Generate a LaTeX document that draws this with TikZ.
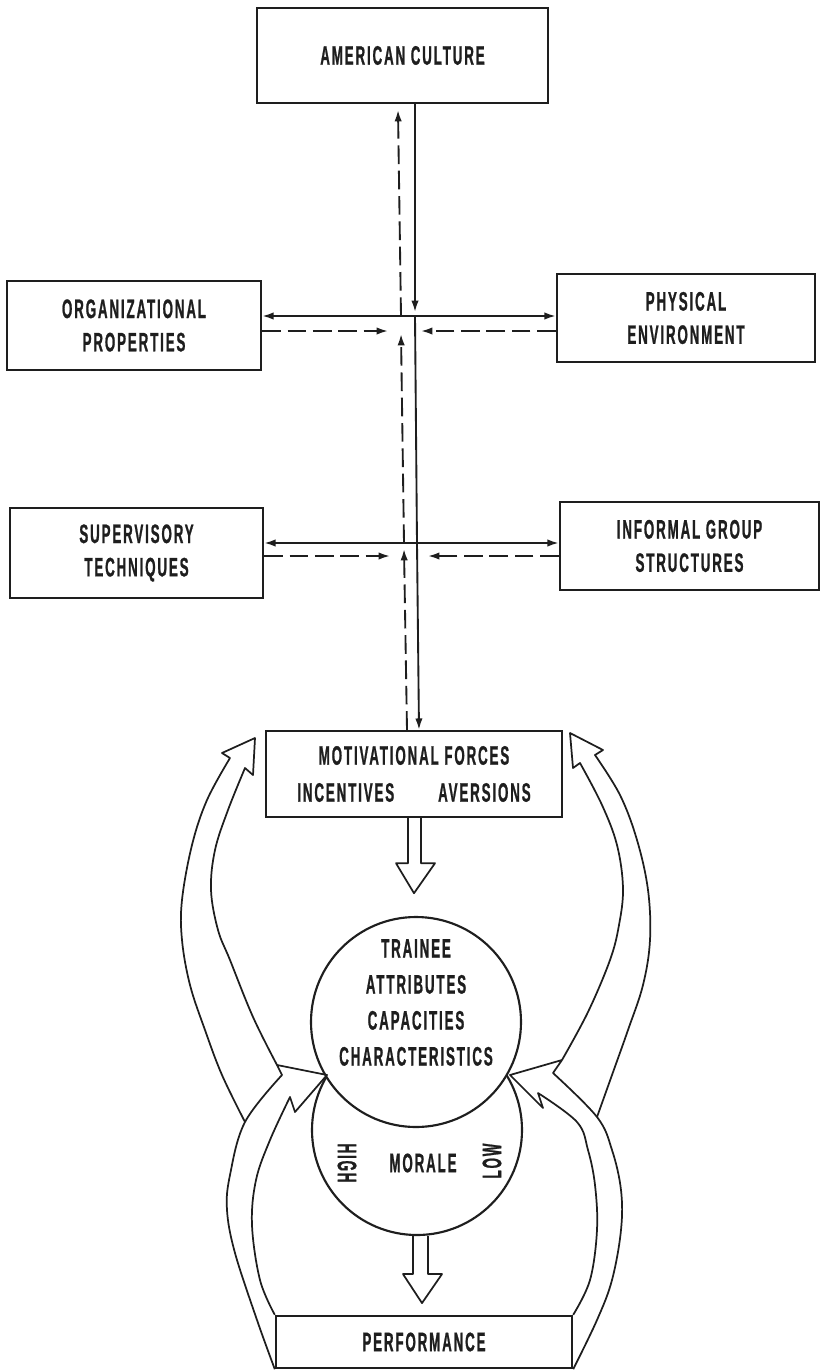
\documentclass[tikz,border=0pt]{standalone}
\usepackage{fontspec}
\newfontfamily\labfam{Liberation Sans}[FakeStretch=0.5,LetterSpace=7,FakeBold=0.8]
\usetikzlibrary{arrows.meta,calc}
\definecolor{ink}{HTML}{1E1E1E}
\newcommand\labfont{\fontsize{20pt}{25pt}\selectfont\labfam\bfseries}
\begin{document}
\begin{tikzpicture}[x=0.75pt,y=-0.75pt,
  txt/.style={font=\labfont,text=ink,inner sep=0pt,align=center},
  box/.style={txt,draw=ink,line width=1.8pt},
  con/.style={draw=ink,line width=1.4pt},
  dcon/.style={con,dash pattern=on 14pt off 5pt},
  tip/.style={-{Latex[length=8.5pt,width=5.5pt]}},
  tips/.style={{Latex[length=8.5pt,width=5.5pt]}-{Latex[length=8.5pt,width=5.5pt]}},
  hol/.style={draw=ink,line width=1.3pt,line join=round},
  ring/.style={draw=ink,line width=1.6pt,circle,minimum size=157.5pt,inner sep=0pt}]
\fill[white] (0,0) rectangle (823,1371);
\useasboundingbox (0,0) rectangle (823,1371);

% boxes
\node[box,minimum width=218.25pt,minimum height=71.25pt] (ac) at (402.5,55.5) {AMERICAN CULTURE};
\node[box,minimum width=190.5pt,minimum height=66.75pt] (org) at (134,325.5) {ORGANIZATIONAL\\PROPERTIES};
\node[box,minimum width=193.5pt,minimum height=66pt] (phys) at (686,318) {PHYSICAL\\ENVIRONMENT};
\node[box,minimum width=189.75pt,minimum height=67.5pt] (sup) at (136.5,553) {SUPERVISORY\\TECHNIQUES};
\node[box,minimum width=194.25pt,minimum height=66pt] (inf) at (689.5,546) {INFORMAL GROUP\\STRUCTURES};
\node[box,minimum width=222pt,minimum height=64.5pt] (mot) at (414,774) {MOTIVATIONAL FORCES\\[2.75pt]INCENTIVES\hspace{33pt}AVERSIONS};
\node[box,minimum width=222pt,minimum height=39pt] (perf) at (424,1342) {PERFORMANCE};

% crossing points
\coordinate (X1) at (415,316);
\coordinate (X2) at (417,543);
\coordinate (Y1) at (401,331);
\coordinate (Y2) at (404,556);
\coordinate (Y0) at (398,110);

% solid connectors
\draw[con,tip] (ac.south -| X1) -- ($(X1)+(0,-4)$);
\draw[con,tips] (org.east |- X1) -- (phys.west |- X1);
\draw[con] (X1) -- (X2);
\draw[con,tip] (X2) -- ($(mot.north)+(5,0)$);
\draw[con,tips] (sup.east |- X2) -- (inf.west |- X2);

% dashed connectors
\draw[dcon,tip] ($(mot.north)+(-7,0)$) -- ($(Y2)+(0,-7)$);
\draw[dcon,tip] (Y2 |- X2) -- ($(Y1)+(0,3)$);
\draw[dcon,tip] (Y1 |- X1) -- (Y0);
\draw[dcon,tip] (org.east |- Y1) -- ($(Y1)+(-13,0)$);
\draw[dcon,tip] (phys.west |- Y1) -- ($(Y1)+(20,0)$);
\draw[dcon,tip] (sup.east |- Y2) -- ($(Y2)+(-14,0)$);
\draw[dcon,tip] (inf.west |- Y2) -- ($(Y2)+(24,0)$);

% circles
\node[ring] (mor) at (417,1130) {};
\node[ring,fill=white] (tra) at (416,1022) {};
\node[txt] (tratxt) at (416,1002.5) {TRAINEE\\[2pt]ATTRIBUTES\\[2pt]CAPACITIES\\[2pt]CHARACTERISTICS};
\node[txt] (mortxt) at (423,1163) {MORALE};
\node[txt,rotate=-90] (high) at (347,1163) {HIGH};
\node[txt,rotate=90] (low) at (492,1161) {LOW};

% straight hollow arrows
\draw[hol] ($(mot.south)+(-6,0)$) -- ($(mot.south)+(-6,45)$) -- ($(mot.south)+(-18,45)$)
  -- ($(mot.south)+(0,75)$) -- ($(mot.south)+(21,45)$) -- ($(mot.south)+(7,45)$) -- ($(mot.south)+(7,0)$);
\draw[hol] ($(mor.south)+(-4,0)$) -- ($(mor.south)+(-4,38)$) -- ($(mor.south)+(-14,38)$)
  -- ($(mor.south)+(5,67)$) -- ($(mor.south)+(25,38)$) -- ($(mor.south)+(11,38)$) -- ($(mor.south)+(11,0)$);

% left small arrow (performance -> trainee/morale)
\draw[hol] plot[smooth,tension=0.6] coordinates {(perf.south west) (257,1320) (235,1253) (227,1210) (230,1175) (245,1122) (282,1075)}
  -- (277,1065) -- (327,1075) -- (295,1112) -- (290,1097)
  -- plot[smooth,tension=0.6] coordinates {(290,1097) (270,1140) (256,1180) (252,1225) (260,1280) (perf.north west)};
% right small arrow
\draw[hol] plot[smooth,tension=0.6] coordinates {(perf.south east) (597,1320) (612,1280) (621,1230) (621,1190) (612,1150) (597,1117) (553,1073)}
  -- (562,1060) -- (510,1075) -- (543,1108) -- (538,1093)
  -- plot[smooth,tension=0.6] coordinates {(538,1093) (577,1122) (588,1150) (595,1185) (597,1230) (590,1280) (perf.north east)};
% left big arrow (-> motivational forces)
\draw[hol] plot[smooth,tension=0.6] coordinates {(245,1122) (222,1075) (205,1030) (190,985) (182,940) (182,900) (192,845) (207,800) (230,758)}
  -- (222,753) -- (255,738) -- (253,775) -- (245,768)
  -- plot[smooth,tension=0.6] coordinates {(245,768) (228,810) (215,850) (211,890) (218,930) (230,960) (253,1017) (277,1065)};
% right big arrow
\draw[hol] plot[smooth,tension=0.6] coordinates {(597,1117) (612,1075) (628,1030) (643,985) (650,940) (648,890) (637,840) (620,795) (595,755)}
  -- (603,750) -- (570,733) -- (573,768) -- (580,763)
  -- plot[smooth,tension=0.6] coordinates {(580,763) (602,805) (617,845) (623,888) (619,925) (610,960) (588,1012) (562,1060)};
\end{tikzpicture}
\end{document}
